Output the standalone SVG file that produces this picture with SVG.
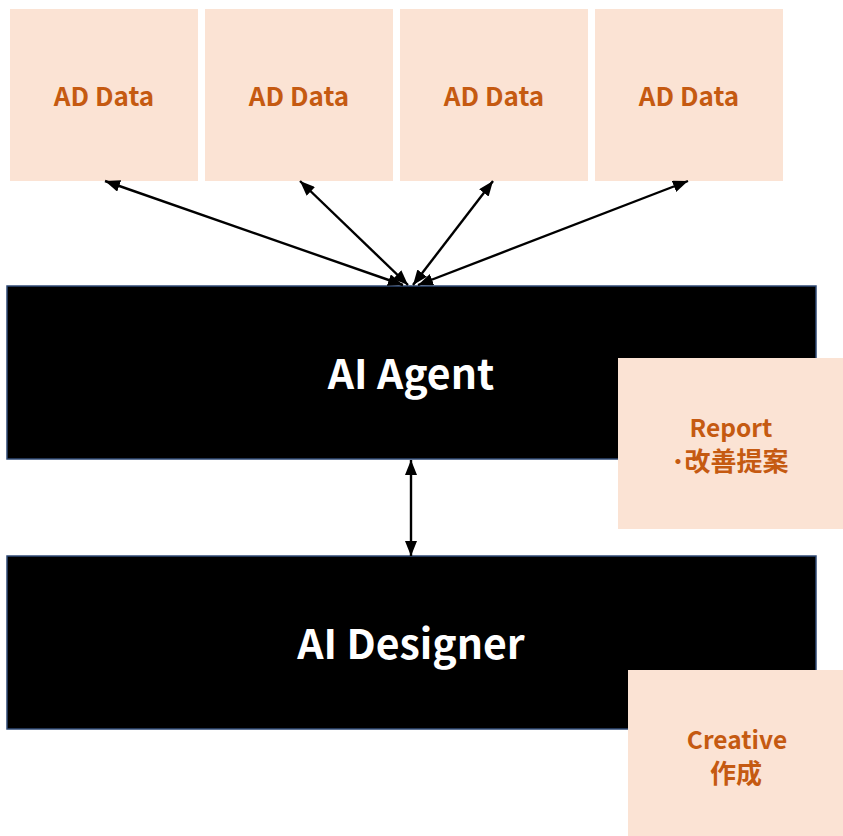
<svg xmlns="http://www.w3.org/2000/svg" width="843" height="836" viewBox="0 0 843 836">
  <style>
    .card { fill: #FBE3D4; }
    .block { fill: #000000; stroke: #2F4A75; stroke-width: 1.5; }
    .lbl { font-family: "Noto Sans CJK JP", "Noto Sans", sans-serif; font-weight: bold; fill: #C55A11; text-anchor: middle; }
    .title { font-family: "Noto Sans CJK JP", "Noto Sans", sans-serif; font-weight: bold; fill: #FFFFFF; text-anchor: middle; font-size: 41px; }
    .link { stroke: #000000; stroke-width: 2.4; fill: none; marker-start: url(#head); marker-end: url(#head); }
  </style>
  <defs>
    <marker id="head" viewBox="0 0 15 12" refX="15" refY="6" markerWidth="15" markerHeight="12" markerUnits="userSpaceOnUse" orient="auto-start-reverse">
      <path d="M0,0 L15,6 L0,12 Z" fill="#000000"/>
    </marker>
  </defs>
  <rect width="843" height="836" fill="#FFFFFF"/>

  <!-- data sources -->
  <g id="ad-data-1">
    <rect class="card" x="10" y="9" width="188" height="172"/>
    <text class="lbl" x="104" y="106" font-size="26">AD Data</text>
  </g>
  <g id="ad-data-2">
    <rect class="card" x="205" y="9" width="188" height="172"/>
    <text class="lbl" x="299" y="106" font-size="26">AD Data</text>
  </g>
  <g id="ad-data-3">
    <rect class="card" x="400" y="9" width="188" height="172"/>
    <text class="lbl" x="494" y="106" font-size="26">AD Data</text>
  </g>
  <g id="ad-data-4">
    <rect class="card" x="595" y="9" width="188" height="172"/>
    <text class="lbl" x="689" y="106" font-size="26">AD Data</text>
  </g>

  <!-- agents -->
  <g id="ai-agent">
    <rect class="block" x="7" y="286" width="809" height="173"/>
    <text class="title" x="411" y="389">AI Agent</text>
  </g>
  <g id="ai-designer">
    <rect class="block" x="7" y="556" width="809" height="173"/>
    <text class="title" x="411" y="659">AI Designer</text>
  </g>

  <!-- outputs -->
  <g id="report">
    <rect class="card" x="618" y="358" width="225" height="171"/>
    <text class="lbl" x="731" y="437" font-size="24.5">Report</text>
    <text class="lbl" x="730" y="471" font-size="26">･改善提案</text>
  </g>
  <g id="creative">
    <rect class="card" x="628" y="670" width="215" height="166"/>
    <text class="lbl" x="737" y="749" font-size="24.5">Creative</text>
    <text class="lbl" x="736" y="783" font-size="26">作成</text>
  </g>

  <!-- connectors -->
  <g id="connectors">
    <line class="link" x1="105" y1="181" x2="403" y2="285"/>
    <line class="link" x1="300" y1="181" x2="408" y2="285"/>
    <line class="link" x1="493" y1="181" x2="413" y2="285"/>
    <line class="link" x1="688" y1="181" x2="418" y2="285"/>
    <line class="link" x1="411" y1="460" x2="411" y2="556"/>
  </g>
</svg>
